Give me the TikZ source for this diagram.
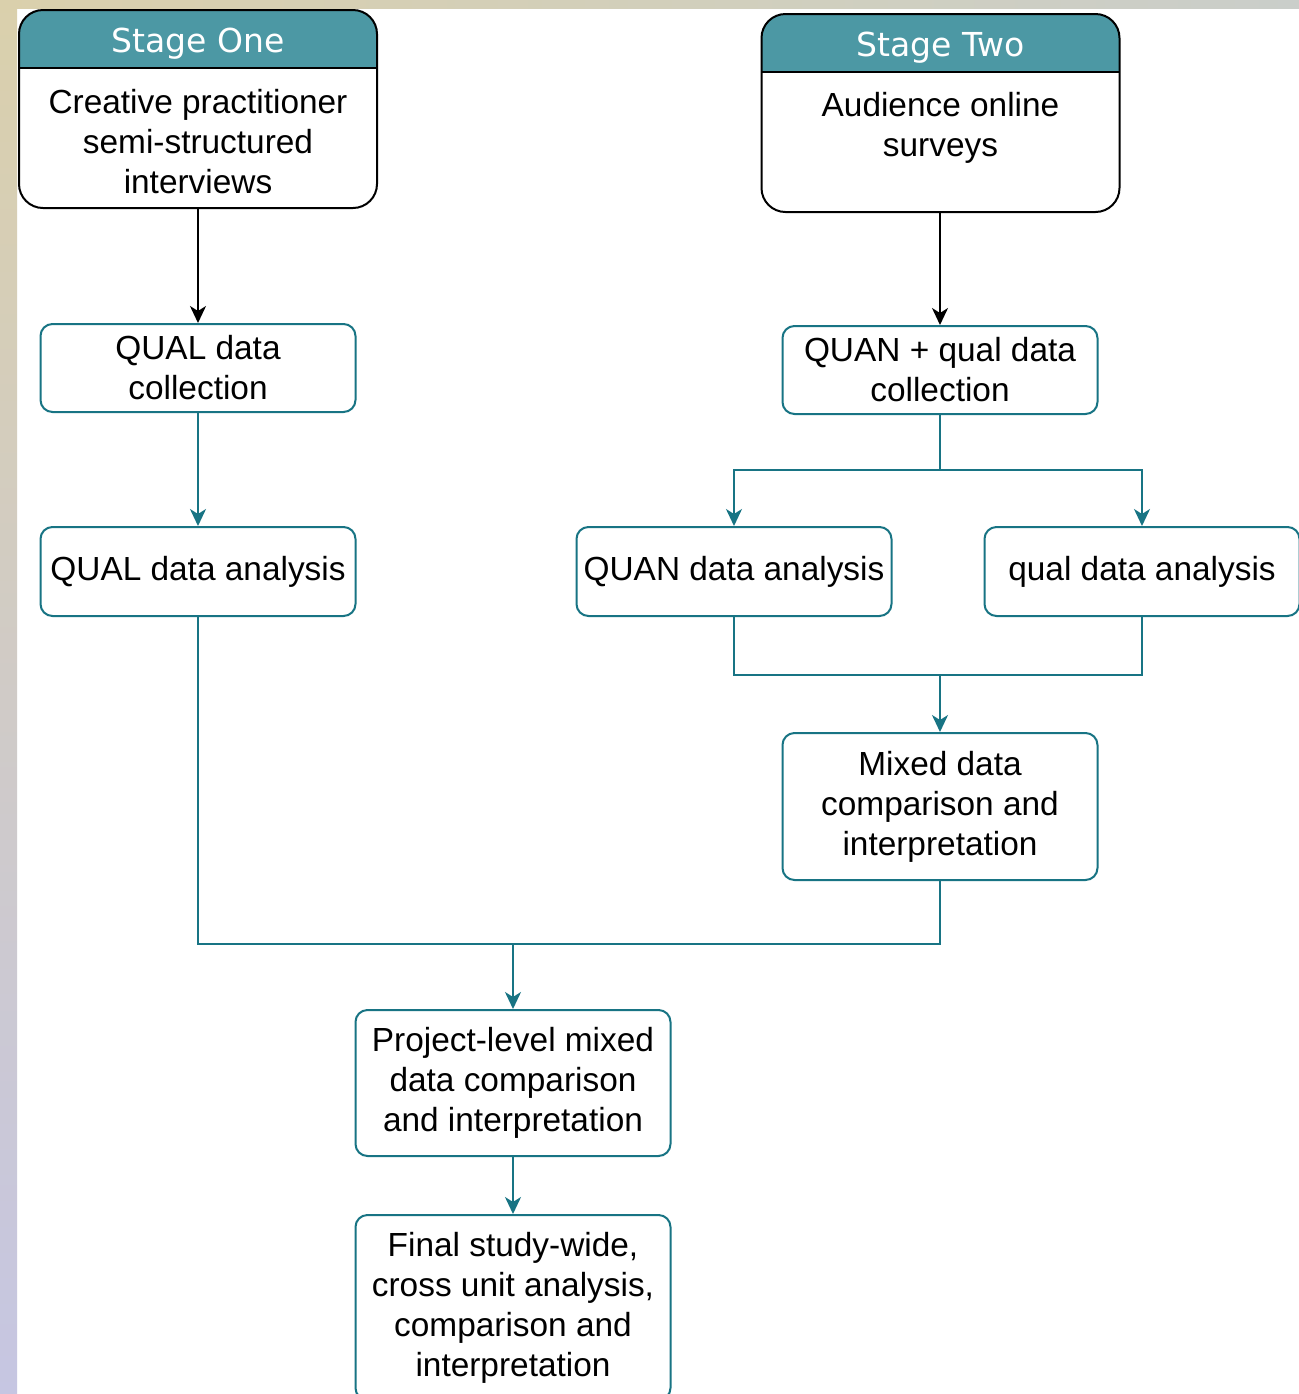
\documentclass[tikz,border=0pt]{standalone}
\usepackage{fontspec}
\setmainfont{Liberation Sans}
\newfontfamily\hdrfont{DejaVu Sans}
\usetikzlibrary{arrows.meta}
\definecolor{hdrfill}{RGB}{76,152,164}
\definecolor{tealline}{RGB}{24,116,132}
\definecolor{bgbeige}{RGB}{218,208,172}
\definecolor{bggreen}{RGB}{178,184,120}
\definecolor{bglav}{RGB}{198,198,226}
\definecolor{bggrey}{RGB}{202,206,202}
\begin{document}
\begin{tikzpicture}[x=0.5pt,y=-0.5pt,
  txt/.style={font=\fontsize{16.7}{20}\selectfont, align=center, inner sep=0pt},
  box/.style={txt, draw=tealline, line width=1pt, rounded corners=6pt, fill=white, minimum width=157.5pt},
  stagebox/.style={draw=black, line width=1pt, rounded corners=12pt, fill=white, inner sep=0pt,
     minimum width=179pt, minimum height=99pt},
  hdrband/.style={path picture={
   \fill[hdrfill, sharp corners] (path picture bounding box.north west) rectangle ([yshift=-29pt]path picture bounding box.north east);
   \draw[line width=1pt, sharp corners] ([yshift=-29pt]path picture bounding box.north west) -- ([yshift=-29pt]path picture bounding box.north east);}},
  hdr/.style={font=\hdrfont\fontsize{16.5}{20}\selectfont, text=white, inner sep=0pt},
  link/.style={draw=tealline, line width=1pt},
  flow/.style={link, -{Stealth[length=8.5pt,width=8pt,inset=2.5pt]}},
  flowk/.style={draw=black, line width=1pt, -{Stealth[length=8.5pt,width=8pt,inset=2.5pt]}}]
\useasboundingbox (0,0) rectangle (1299,1394);
\fill[white] (0,0) rectangle (1299,1394);
\shade[top color=bgbeige, middle color=bggreen, bottom color=bglav] (0,0) rectangle (17,1394);
\shade[left color=bgbeige, right color=bggrey] (0,0) rectangle (1299,8);

% stage boxes
\node[stagebox, hdrband] (s1) at (198,109) {};
\node[hdr] (h1) at (198,44) {Stage One};
\node[txt] (t1) at (198,142) {Creative practitioner\\semi-structured\\interviews};

\node[stagebox, hdrband] (s2) at (940.5,113) {};
\node[hdr] (h2) at (940.5,48) {Stage Two};
\node[txt] (t2) at (940.5,128) {Audience online\\surveys};

% process boxes
\node[box, minimum height=44pt] (q1) at (198,368) {QUAL data\\collection};
\node[box, minimum height=44.5pt] (q2) at (198,571.5) {QUAL data analysis};
\node[box, minimum height=44pt] (qc) at (940,370) {QUAN + qual data\\collection};
\node[box, minimum height=44.5pt] (qa) at (734,571.5) {QUAN data analysis};
\node[box, minimum height=44.5pt] (ql) at (1142,571.5) {qual data analysis};
\node[box, minimum height=73.5pt] (mx) at (940,806.5) {Mixed data\\comparison and\\interpretation};
\node[box, minimum height=73pt] (pl) at (513,1083) {Project-level mixed\\data comparison\\and interpretation};
\node[box, minimum height=92.5pt] (fn) at (513,1307.5) {Final study-wide,\\cross unit analysis,\\comparison and\\interpretation};

% connectors
\draw[flowk] (s1.south) -- (q1.north);
\draw[flowk] (s2.south -| qc.north) -- (qc.north);
\draw[flow] (q1.south) -- (q2.north);

\coordinate (sp) at (940,470);
\draw[link] (qc.south) -- (sp);
\draw[flow] (sp) -| (qa.north);
\draw[flow] (sp) -| (ql.north);

\coordinate (mg) at (940,675);
\draw[link] (qa.south) |- (mg);
\draw[link] (ql.south) |- (mg);
\draw[flow] (mg) -- (mx.north);

\coordinate (bm) at (513,944);
\draw[link] (q2.south) |- (bm);
\draw[link] (mx.south) |- (bm);
\draw[flow] (bm) -- (pl.north);

\draw[flow] (pl.south) -- (fn.north);
\end{tikzpicture}
\end{document}
